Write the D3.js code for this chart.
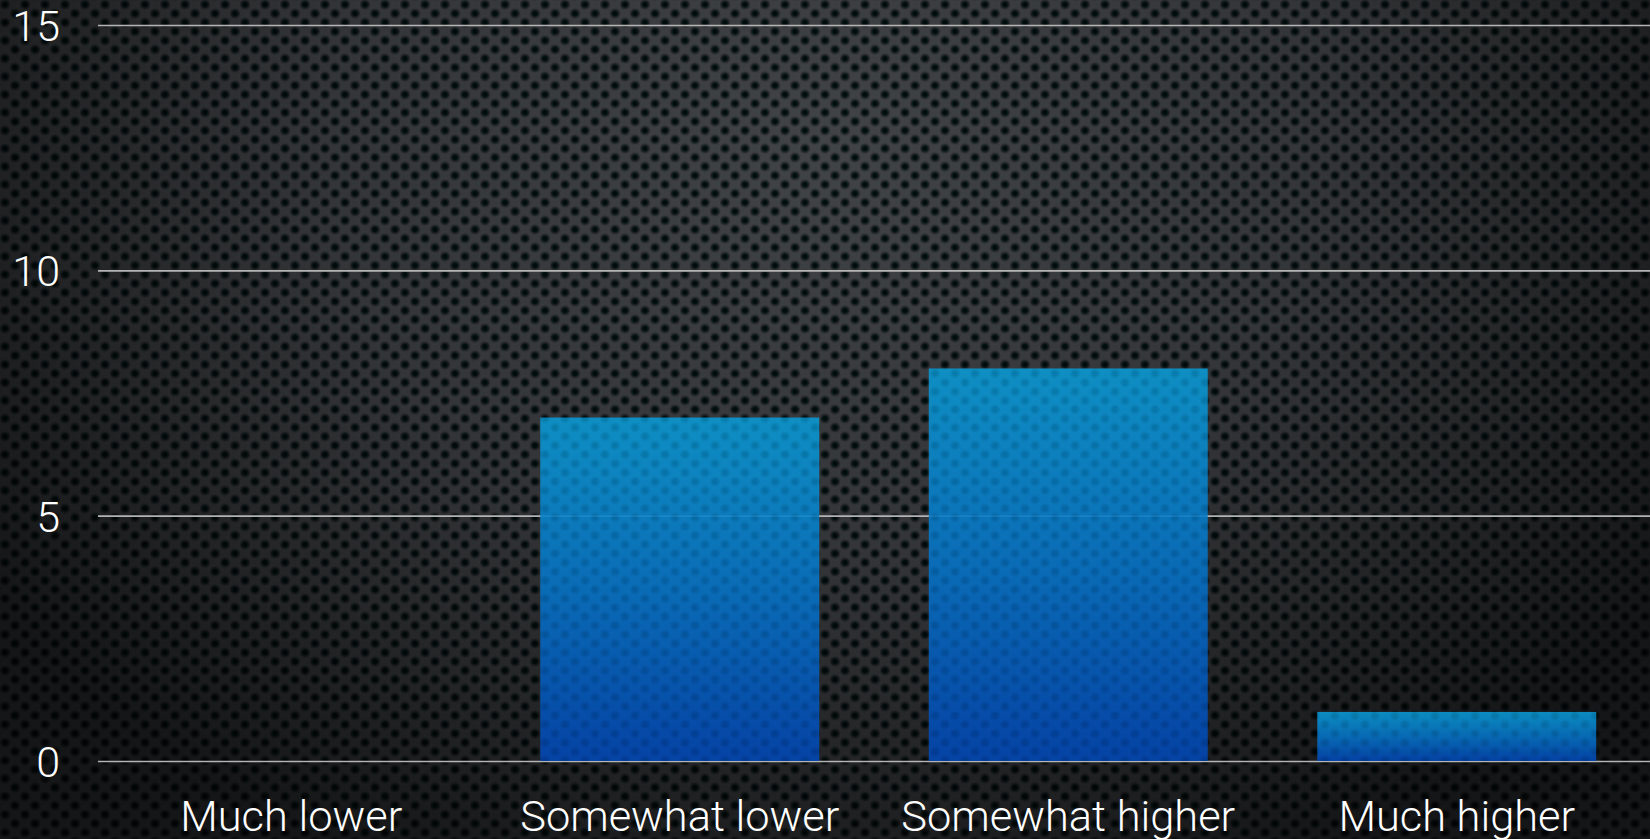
<!DOCTYPE html>
<html><head><meta charset="utf-8">
<script src="https://cdn.jsdelivr.net/npm/d3@7"></script>
<style>html,body{margin:0;padding:0;background:#111;overflow:hidden}</style>
</head><body>
<svg id="c" width="1650" height="839"></svg>
<script>
const categories = ["Much lower", "Somewhat lower", "Somewhat higher", "Much higher"];
const values = [0, 7, 8, 1];
const yTicks = [0, 5, 10, 15];

const W = 1650, H = 839;
const svg = d3.select("#c");
const defs = svg.append("defs");

// perforated texture
const PW = 20, PH = 18;
const holePts = [[5, 4.5], [15, 13.5], [-5, 13.5], [25, 13.5], [5, 22.5], [15, -4.5]];
const hb = defs.append("filter").attr("id", "soft").attr("x", "-50%").attr("y", "-50%").attr("width", "200%").attr("height", "200%");
hb.append("feGaussianBlur").attr("stdDeviation", 1.1);

const pat = defs.append("pattern").attr("id", "holes").attr("patternUnits", "userSpaceOnUse")
  .attr("width", PW).attr("height", PH);
pat.append("rect").attr("width", PW).attr("height", PH).attr("fill", "#414447");
holePts.forEach(([cx, cy]) => {
  pat.append("circle").attr("cx", cx).attr("cy", cy).attr("r", 3.8).attr("fill", "#06080a").attr("filter", "url(#soft)");
});

const patB = defs.append("pattern").attr("id", "holesB").attr("patternUnits", "userSpaceOnUse")
  .attr("width", PW).attr("height", PH);
holePts.forEach(([cx, cy]) => {
  patB.append("circle").attr("cx", cx).attr("cy", cy).attr("r", 3.8).attr("fill", "#000").attr("filter", "url(#soft)");
});

const vig = defs.append("radialGradient").attr("id", "vig").attr("gradientUnits", "userSpaceOnUse")
  .attr("cx", 825).attr("cy", 150).attr("r", 1000).attr("gradientTransform", "translate(825,150) scale(1,0.8) translate(-825,-150)");
vig.append("stop").attr("offset", "0").attr("stop-color", "#000").attr("stop-opacity", 0.0);
vig.append("stop").attr("offset", "0.5").attr("stop-color", "#000").attr("stop-opacity", 0.22);
vig.append("stop").attr("offset", "1").attr("stop-color", "#000").attr("stop-opacity", 0.68);

const barGrad = defs.append("linearGradient").attr("id", "barg").attr("x1", 0).attr("y1", 0).attr("x2", 0).attr("y2", 1);
barGrad.append("stop").attr("offset", "0").attr("stop-color", "#0a98d2");
barGrad.append("stop").attr("offset", "0.5").attr("stop-color", "#0672c4");
barGrad.append("stop").attr("offset", "1").attr("stop-color", "#0246b2");

svg.append("rect").attr("width", W).attr("height", H).attr("fill", "url(#holes)");
svg.append("rect").attr("width", W).attr("height", H).attr("fill", "url(#vig)");

const x = d3.scaleBand().domain(categories).range([97, 1651]).paddingInner(0.282).paddingOuter(0.141);
const y = d3.scaleLinear().domain([0, 15]).range([761, 25]);

const font = "Roboto, 'Helvetica Neue', Arial, sans-serif";

// grid + y labels
const yAxis = svg.append("g").attr("transform", "translate(98,0)")
  .call(d3.axisLeft(y).tickValues(yTicks).tickSizeInner(-(W - 98)).tickSizeOuter(0).tickPadding(38));
yAxis.select(".domain").remove();
yAxis.selectAll(".tick line").attr("stroke", "#b4b4b4").attr("stroke-width", 1.6);
yAxis.selectAll(".tick text").attr("fill", "#fff").attr("font-family", font).attr("font-weight", 300)
  .attr("font-size", 43).attr("dy", "0.36em");

// bars
const bars = svg.append("g");
bars.selectAll("rect.bar").data(values).join("rect").attr("class", "bar")
  .attr("x", (d, i) => x(categories[i])).attr("width", x.bandwidth())
  .attr("y", d => y(d)).attr("height", d => y(0) - y(d))
  .attr("fill", "url(#barg)").attr("fill-opacity", 0.9);
bars.selectAll("rect.tex").data(values).join("rect").attr("class", "tex")
  .attr("x", (d, i) => x(categories[i])).attr("width", x.bandwidth())
  .attr("y", d => y(d)).attr("height", d => y(0) - y(d))
  .attr("fill", "url(#holesB)").attr("opacity", 0.1);

// x labels
const xAxis = svg.append("g").attr("transform", `translate(0,${y(0)})`)
  .call(d3.axisBottom(x).tickSize(0));
xAxis.select(".domain").remove();
const xt = xAxis.selectAll(".tick text").attr("fill", "#fff").attr("font-family", font).attr("font-weight", 300)
  .attr("font-size", 44).attr("y", 70).attr("dy", 0);
// fit label size to reference width of the longest label
let maxW = 0;
xt.each(function () { maxW = Math.max(maxW, this.getComputedTextLength()); });
if (maxW > 0) xt.attr("font-size", 44 * 334 / maxW);
</script>
</body></html>
